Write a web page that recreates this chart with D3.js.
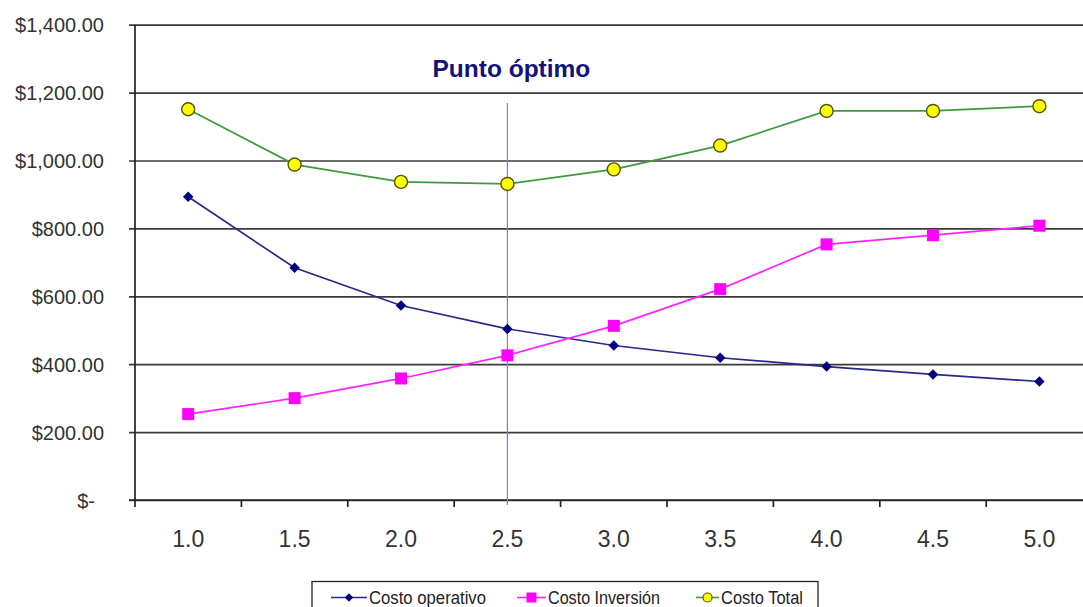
<!DOCTYPE html>
<html><head><meta charset="utf-8">
<script src="https://cdn.jsdelivr.net/npm/d3@7"></script>
<style>
html,body{margin:0;padding:0;background:#fff;overflow:hidden;}
svg{display:block;font-family:Arial,"Liberation Sans",sans-serif;}
</style></head>
<body><svg id="c" width="1083" height="607"></svg>
<script>
const categories = ["1.0","1.5","2.0","2.5","3.0","3.5","4.0","4.5","5.0"];
const costoOperativo = [893, 684, 573, 504, 455, 419, 393, 370, 349];
const costoInversion = [253, 300, 358, 426, 513, 621, 753, 780, 808];
const costoTotal = [1151, 988, 937, 931, 974, 1044, 1146, 1146, 1160];
const yTicks = [0, 200, 400, 600, 800, 1000, 1200, 1400];
const seriesNames = ["Costo operativo", "Costo Inversión", "Costo Total"];
const optimoCategory = "2.5";
const optimoLabel = "Punto óptimo";

(function () {
const svg = d3.select("#c");
const pLeft = 135, pRight = 1092.6, pTop = 24.7, pBottom = 500;

const x = d3.scaleBand().domain(categories).range([pLeft, pRight]).paddingInner(0).paddingOuter(0);
const xc = c => x(c) + x.bandwidth() / 2;
const y = d3.scaleLinear().domain([0, 1400]).range([pBottom, pTop]);

// gridlines + y axis
const yAxis = d3.axisLeft(y).tickValues(yTicks)
  .tickSize(6).tickSizeOuter(0)
  .tickFormat(d => d === 0 ? "$-" : "$" + d3.format(",.2f")(d))
  .tickPadding(0);
const gy = svg.append("g").attr("transform", `translate(${pLeft},0)`).call(yAxis);
gy.select(".domain").remove();
gy.selectAll(".tick line").attr("x1", -6).attr("x2", 1083 - pLeft)
  .attr("stroke", "#3a3a3a").attr("stroke-width", 1.7);
gy.selectAll(".tick text").attr("x", d => d === 0 ? -40 : -31).attr("dy", "0.36em")
  .attr("font-size", 20).attr("fill", "#333").attr("font-family", "Arial, 'Liberation Sans', sans-serif");
// y axis line
svg.append("line").attr("x1", pLeft).attr("x2", pLeft).attr("y1", pTop).attr("y2", pBottom)
  .attr("stroke", "#222").attr("stroke-width", 1.7);

// x axis labels
const xAxis = d3.axisBottom(x).tickSize(0).tickPadding(0);
const gx = svg.append("g").attr("transform", `translate(0,${pBottom})`).call(xAxis);
gx.select(".domain").remove();
gx.selectAll(".tick text").attr("y", 47).attr("dy", 0)
  .attr("font-size", 23).attr("fill", "#333").attr("font-family", "Arial, 'Liberation Sans', sans-serif");
// boundary tick marks
const bounds = categories.map(c => x(c)).concat([pRight]);
svg.append("g").selectAll("line").data(bounds).join("line")
  .attr("x1", d => d).attr("x2", d => d).attr("y1", pBottom).attr("y2", pBottom + 7)
  .attr("stroke", "#222").attr("stroke-width", 1.7);
svg.append("line").attr("x1", pLeft - 6).attr("x2", 1083).attr("y1", pBottom).attr("y2", pBottom)
  .attr("stroke", "#222").attr("stroke-width", 1.7);

// optimal vertical line
svg.append("line").attr("x1", xc(optimoCategory)).attr("x2", xc(optimoCategory))
  .attr("y1", 103).attr("y2", 505).attr("stroke", "#7a7aff").attr("stroke-width", 1.2);
svg.append("text").attr("x", xc(optimoCategory) + 4).attr("y", 77).attr("text-anchor", "middle")
  .attr("font-size", 24.5).attr("font-weight", "bold").attr("fill", "#12127a").text(optimoLabel);

const line = d3.line().x((d, i) => xc(categories[i])).y(d => y(d));

svg.append("path").datum(costoOperativo).attr("d", line).attr("fill", "none")
  .attr("stroke", "#28288a").attr("stroke-width", 1.7);
svg.append("path").datum(costoInversion).attr("d", line).attr("fill", "none")
  .attr("stroke", "#ff22ff").attr("stroke-width", 1.7);
svg.append("path").datum(costoTotal).attr("d", line).attr("fill", "none")
  .attr("stroke", "#3d9a3d").attr("stroke-width", 1.7);

const diamond = d3.symbol().type(d3.symbolDiamond2).size(70);
svg.append("g").selectAll("path").data(costoOperativo).join("path")
  .attr("d", diamond).attr("transform", (d, i) => `translate(${xc(categories[i])},${y(d)})`)
  .attr("fill", "#000080");
svg.append("g").selectAll("rect").data(costoInversion).join("rect")
  .attr("x", (d, i) => xc(categories[i]) - 6).attr("y", d => y(d) - 6)
  .attr("width", 12).attr("height", 12).attr("fill", "#ff00ff");
svg.append("g").selectAll("circle").data(costoTotal).join("circle")
  .attr("cx", (d, i) => xc(categories[i])).attr("cy", d => y(d)).attr("r", 6.5)
  .attr("fill", "#ffff00").attr("stroke", "#555500").attr("stroke-width", 1.4);

// legend
svg.append("rect").attr("x", 312).attr("y", 581.5).attr("width", 506).attr("height", 40)
  .attr("fill", "#fff").attr("stroke", "#222").attr("stroke-width", 1.3);
const legY = 597.5;
const leg = [
  {name: seriesNames[0], x0: 331, x1: 367, tx: 369, color: "#28288a", mark: "diamond"},
  {name: seriesNames[1], x0: 517, x1: 546, tx: 548, color: "#ff22ff", mark: "square"},
  {name: seriesNames[2], x0: 696, x1: 719, tx: 721, color: "#3d9a3d", mark: "circle"}
];
leg.forEach(l => {
  svg.append("line").attr("x1", l.x0).attr("x2", l.x1).attr("y1", legY).attr("y2", legY)
    .attr("stroke", l.color).attr("stroke-width", 1.6);
  const cx = (l.x0 + l.x1) / 2;
  if (l.mark === "diamond") svg.append("path").attr("d", d3.symbol().type(d3.symbolDiamond2).size(45)())
    .attr("transform", `translate(${cx},${legY})`).attr("fill", "#000080");
  if (l.mark === "square") svg.append("rect").attr("x", cx - 5).attr("y", legY - 5).attr("width", 10).attr("height", 10).attr("fill", "#ff00ff");
  if (l.mark === "circle") svg.append("circle").attr("cx", cx).attr("cy", legY).attr("r", 4.5)
    .attr("fill", "#ffff00").attr("stroke", "#555500").attr("stroke-width", 1.2);
  svg.append("text").attr("x", l.tx).attr("y", legY + 6.5).attr("font-size", 17.5).attr("fill", "#222")
    .attr("textLength", l.name === seriesNames[0] ? 117 : (l.name === seriesNames[1] ? 112 : 82))
    .attr("lengthAdjust", "spacingAndGlyphs").text(l.name);
});
})();
</script></body></html>
